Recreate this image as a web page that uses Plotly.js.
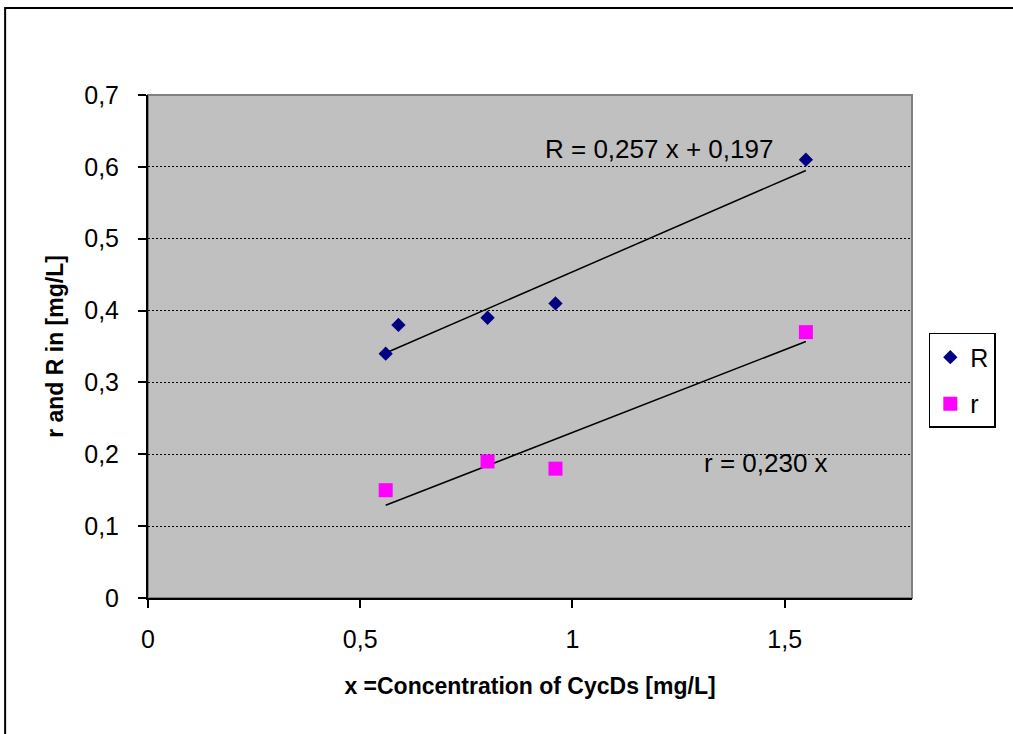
<!DOCTYPE html>
<html>
<head>
<meta charset="utf-8">
<script src="https://cdn.plot.ly/plotly-3.0.1.min.js"></script>
<style>html,body{margin:0;padding:0;background:#fff;}#chart{width:1013px;height:734px;}</style>
</head>
<body>
<div id="chart"></div>
<script>
// Data
const xR = [0.56, 0.59, 0.80, 0.96, 1.55];
const yR = [0.34, 0.38, 0.39, 0.41, 0.61];
const xr = [0.56, 0.80, 0.96, 1.55];
const yr = [0.15, 0.19, 0.18, 0.37];
// Trend line end points (as drawn)
const trendRx = [0.56, 1.55];
const trendRy = [0.341, 0.595];
const trendrx = [0.56, 1.55];
const trendry = [0.129, 0.357];
const eqR = "R = 0,257 x + 0,197";
const eqr = "r = 0,230 x";
const xTicks = [0, 0.5, 1, 1.5];
const yTicks = [0, 0.1, 0.2, 0.3, 0.4, 0.5, 0.6, 0.7];

const font = "Liberation Sans, Arial, sans-serif";

const traces = [
  {x: trendRx, y: trendRy, mode: 'lines', line: {color: '#000', width: 1.5}, showlegend: false, hoverinfo: 'skip'},
  {x: trendrx, y: trendry, mode: 'lines', line: {color: '#000', width: 1.5}, showlegend: false, hoverinfo: 'skip'},
  {x: xR, y: yR, mode: 'markers', name: 'R', legendgroup: 'a', marker: {symbol: 'diamond', size: 11, color: '#000080'}},
  {x: xr, y: yr, mode: 'markers', name: 'r', legendgroup: 'b', marker: {symbol: 'square', size: 14, color: '#FF00FF'}}
];

const layout = {
  width: 1013, height: 734,
  margin: {l: 148, r: 101, t: 95, b: 136},
  paper_bgcolor: '#fff',
  plot_bgcolor: '#C0C0C0',
  separators: ', ',
  font: {family: font, size: 25, color: '#000'},
  xaxis: {
    range: [0, 1.8], tickvals: xTicks, ticks: 'outside', ticklen: 8, tickwidth: 2, tickcolor: '#000',
    showline: true, linecolor: '#000', linewidth: 2, showgrid: false, zeroline: false,
    tickfont: {family: font, size: 25}, ticklabelstandoff: 10,
    title: {text: '<b>x =Concentration of CycDs [mg/L]</b>', font: {family: font, size: 23}, standoff: 26}
  },
  yaxis: {
    range: [0, 0.7], tickvals: yTicks, ticks: 'outside', ticklen: 8, tickwidth: 2, tickcolor: '#000',
    showline: true, linecolor: '#000', linewidth: 2, zeroline: false,
    showgrid: true, gridcolor: '#000', gridwidth: 1, griddash: '2px,2px',
    tickfont: {family: font, size: 25}, ticklabelstandoff: 14,
    title: {text: '<b>r and R in [mg/L]</b>', font: {family: font, size: 23}, standoff: 14}
  },
  legend: {
    x: 1.022, y: 0.527, xanchor: 'left', yanchor: 'top',
    bordercolor: '#000', borderwidth: 1.5, bgcolor: '#fff',
    font: {family: font, size: 25}, itemwidth: 30, tracegroupgap: 11, traceorder: 'grouped'
  },
  annotations: [
    {x: 1.205, y: 0.625, xref: 'x', yref: 'y', text: eqR, showarrow: false, font: {family: font, size: 26}},
    {x: 1.457, y: 0.188, xref: 'x', yref: 'y', text: eqr, showarrow: false, font: {family: font, size: 26}}
  ],
  shapes: [
    {type: 'rect', xref: 'paper', yref: 'paper', x0: 0, x1: 1, y0: 0, y1: 1, line: {color: '#808080', width: 2}, fillcolor: 'rgba(0,0,0,0)', layer: 'below'},
    {type: 'rect', xref: 'paper', yref: 'paper', x0: -0.187, x1: 1.3, y0: -0.5, y1: 1.173, line: {color: '#000', width: 2}, fillcolor: 'rgba(0,0,0,0)'}
  ]
};

Plotly.newPlot('chart', traces, layout, {displayModeBar: false, staticPlot: true});
</script>
</body>
</html>
